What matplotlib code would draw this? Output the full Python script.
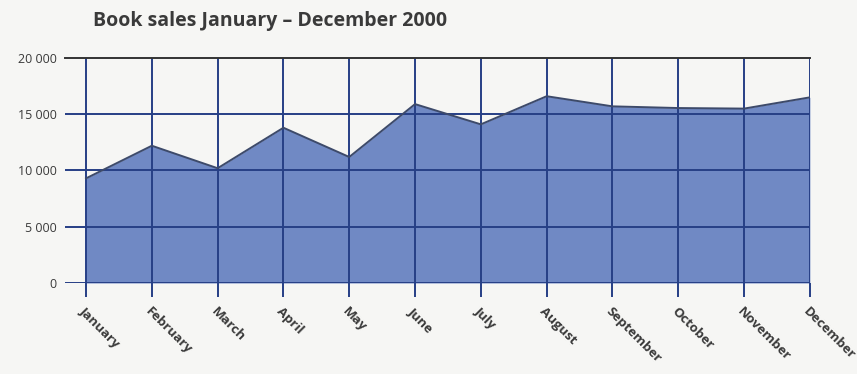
import matplotlib.pyplot as plt

months = ["January", "February", "March", "April", "May", "June",
          "July", "August", "September", "October", "November", "December"]
sales = [9300, 12200, 10200, 13800, 11200, 15900,
         14100, 16600, 15700, 15550, 15500, 16500]
y_ticks = [0, 5000, 10000, 15000, 20000]
y_labels = ["0", "5 000", "10 000", "15 000", "20 000"]

plt.rcParams["font.family"] = ["Open Sans", "DejaVu Sans"]

fill_color = "#7089c4"
grid_color = "#263f86"
text_color = "#3a3a3a"
bg = "#f6f6f4"

fig = plt.figure(figsize=(8.57, 3.74), dpi=100, facecolor=bg)
ax = fig.add_axes([0.0758, 0.2433, 0.8692, 0.6017], facecolor=bg)

x = list(range(len(months)))
ax.fill_between(x, sales, 0, color=fill_color, lw=0, zorder=1)
ax.plot(x, sales, color="#3d4a6a", lw=1.4, zorder=3)

# grid drawn on top of the filled area
for v in y_ticks[:-1]:
    ax.axhline(v, color=grid_color, lw=1.4, zorder=2)
for xi in x:
    ax.axvline(xi, color=grid_color, lw=1.4, zorder=2)

ax.set_xlim(-0.32, 11)
ax.set_ylim(0, 20000)

for s in ["left", "right", "bottom"]:
    ax.spines[s].set_visible(False)
ax.spines["top"].set_color("#333333")
ax.spines["top"].set_linewidth(1.4)
ax.spines["top"].set_zorder(4)

ax.set_yticks(y_ticks)
ax.set_yticklabels(y_labels, fontsize=9, color=text_color)
ax.tick_params(axis="y", length=0, pad=6)

ax.set_xticks(x)
ax.set_xticklabels(months, fontsize=9.5, fontweight="bold", color=text_color,
                   rotation=-45, ha="left", va="top", rotation_mode="anchor")
ax.tick_params(axis="x", length=10, width=1.4, color=grid_color, pad=6)

fig.text(0.108, 0.943, "Book sales January \u2013 December 2000",
         fontsize=14, fontweight="bold", color=text_color, ha="left", va="center")

fig.savefig("out.png", dpi=100, facecolor=bg)
